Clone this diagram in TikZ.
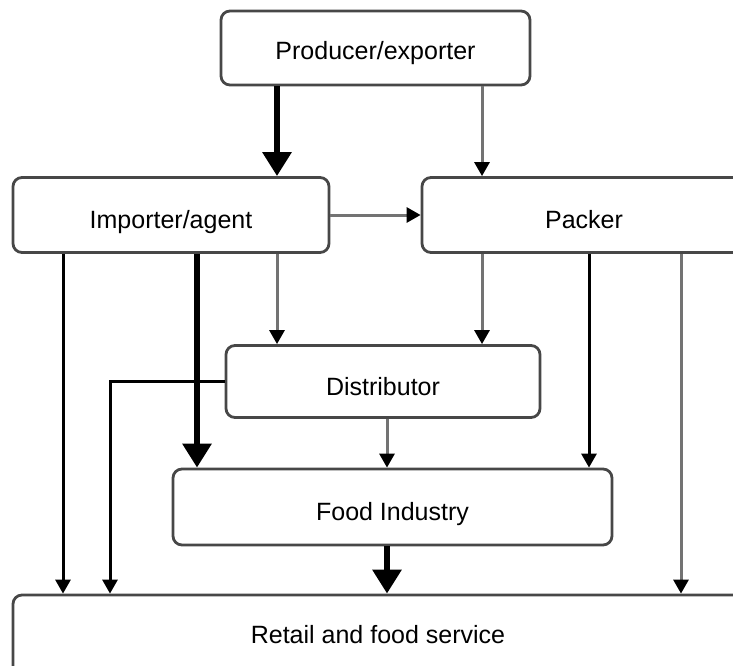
\documentclass[tikz,border=0pt]{standalone}
\usepackage{fontspec}
\setmainfont{Liberation Sans}
\usetikzlibrary{arrows.meta}
\begin{document}
\begin{tikzpicture}[x=1pt,y=-1pt,
  box/.style={draw=black!72, line width=2.8pt, rounded corners=9pt, fill=white,
    font=\fontsize{25}{29}\selectfont, inner sep=0pt, text height=18pt, text depth=5pt},
  thinarrow/.style={draw=black!55, line width=3pt, -{Triangle[length=14pt,width=15pt,color=black]}},
  blackarrow/.style={draw=black, line width=3pt, -{Triangle[length=14pt,width=15pt,color=black]}},
  thickarrow/.style={draw=black, line width=6.5pt, -{Triangle[length=24pt,width=28pt]}}]
\useasboundingbox (0,0) rectangle (733,666);
\clip (0,0) rectangle (733,666);
\node[box, minimum width=309pt, minimum height=74pt] (prod) at (375.5,48) {\raisebox{-5pt}{Producer/exporter}};
\node[box, minimum width=316pt, minimum height=75pt] (imp) at (171,215) {\raisebox{-7pt}{Importer/agent}};
\node[box, minimum width=324pt, minimum height=75pt] (pack) at (584,215) {\raisebox{-7pt}{Packer}};
\node[box, minimum width=314pt, minimum height=72pt] (dist) at (383,381.5) {\raisebox{-7pt}{Distributor}};
\node[box, minimum width=439pt, minimum height=76pt] (food) at (392.5,507) {\raisebox{-7pt}{Food Industry}};
\node[box, minimum width=730pt, minimum height=90pt] (retail) at (378,640) {\raisebox{3pt}{Retail and food service}};
\coordinate (c63) at (63,0);
\coordinate (c110) at (110,0);
\coordinate (c197) at (197,0);
\coordinate (c277) at (277,0);
\coordinate (c387) at (387,0);
\coordinate (c482) at (482,0);
\coordinate (c589) at (589,0);
\coordinate (c681) at (681,0);
% producer
\draw[thickarrow] (prod.south -| c277) -- (imp.north -| c277);
\draw[thinarrow] (prod.south -| c482) -- (pack.north -| c482);
% importer
\draw[thinarrow] (imp.east) -- (pack.west);
\draw[blackarrow] (imp.south -| c63) -- (retail.north -| c63);
\draw[thickarrow] (imp.south -| c197) -- (food.north -| c197);
\draw[thinarrow] (imp.south -| c277) -- (dist.north -| c277);
% packer
\draw[thinarrow] (pack.south -| c482) -- (dist.north -| c482);
\draw[blackarrow] (pack.south -| c589) -- (food.north -| c589);
\draw[thinarrow] (pack.south -| c681) -- (retail.north -| c681);
% distributor
\draw[blackarrow] (dist.west) -| (retail.north -| c110);
\draw[thinarrow] (dist.south -| c387) -- (food.north -| c387);
% food industry
\draw[thickarrow] (food.south -| c387) -- (retail.north -| c387);
\end{tikzpicture}
\end{document}
